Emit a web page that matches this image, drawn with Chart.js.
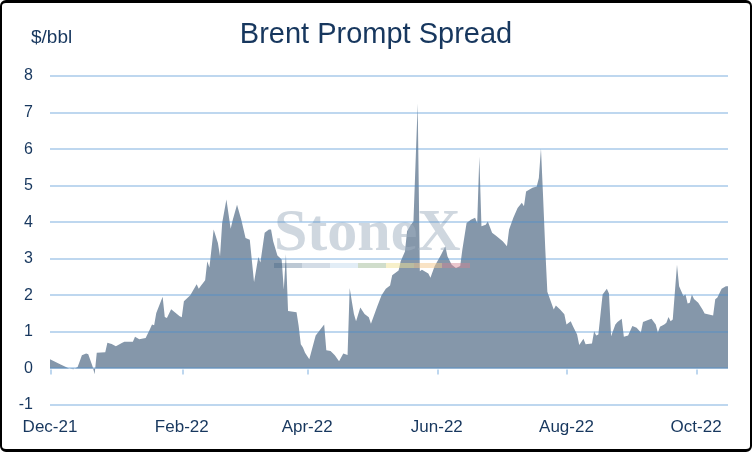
<!DOCTYPE html>
<html>
<head>
<meta charset="utf-8">
<script src="https://cdn.jsdelivr.net/npm/chart.js@4.4.1/dist/chart.umd.min.js"></script>
<style>
  html, body { margin: 0; padding: 0; background: #fff; }
  #frame {
    width: 752px; height: 452px; box-sizing: border-box;
    border-style: solid; border-color: #000; border-width: 3px 2px 3px 2px;
    border-radius: 6px; overflow: hidden; background: #fff;
  }
  canvas { display: block; }
</style>
</head>
<body>
<div id="frame"><canvas id="chart" width="748" height="446"></canvas></div>
<script>
// Days counted from 1 Dec 2021, and the prompt spread in $/bbl
const days = [0, 5, 6, 9, 11, 13, 14, 15, 17, 18, 20, 21, 22, 26, 27, 29, 31, 34, 35, 39,
  40, 42, 45, 47, 48, 49, 50, 53, 54, 55, 57, 61, 62, 63, 66, 69, 70, 71, 73, 74,
  75, 77, 79, 80, 81, 83, 85, 86, 88, 90, 92, 94, 96, 98, 99, 101, 103, 104, 105, 107,
  109, 110, 111, 112, 116, 117, 118, 119, 120, 122, 125, 127, 129, 130, 132, 134, 136, 138, 140, 141,
  142, 143, 144, 146, 148, 150, 151, 154, 156, 158, 160, 161, 164, 165, 167, 168, 170, 171, 173, 174,
  175, 178, 179, 181, 184, 186, 187, 189, 191, 193, 194, 196, 198, 200, 201, 202, 203, 205, 206, 208,
  210, 213, 215, 216, 218, 220, 222, 223, 224, 227, 229, 230, 231, 232, 233, 234, 237, 238, 240, 242,
  243, 245, 246, 248, 249, 251, 252, 255, 256, 257, 258, 260, 262, 263, 264, 266, 267, 269, 270, 272,
  274, 276, 278, 279, 282, 283, 285, 286, 287, 289, 290, 291, 292, 293, 295, 296, 298, 299, 300, 301,
  302, 303, 305, 307, 308, 312, 313, 314, 316, 318, 319];
const spread = [0.25, 0.11, 0.08, 0.0, -0.02, 0.04, 0.2, 0.36, 0.41, 0.39, 0.06, -0.16, 0.43, 0.44, 0.70, 0.67, 0.61, 0.70, 0.73, 0.73,
  0.87, 0.80, 0.83, 1.07, 1.20, 1.18, 1.52, 1.96, 1.41, 1.38, 1.62, 1.43, 1.40, 1.84, 2.00, 2.30, 2.18, 2.26, 2.41, 2.93,
  2.76, 3.80, 3.43, 3.07, 3.98, 4.62, 3.82, 4.07, 4.48, 4.07, 3.57, 3.52, 2.36, 3.05, 2.90, 3.71, 3.80, 3.80, 3.48, 3.09,
  2.98, 2.16, 3.13, 1.57, 1.54, 1.16, 0.66, 0.57, 0.43, 0.25, 0.90, 1.05, 1.20, 0.50, 0.48, 0.36, 0.20, 0.41, 0.37, 2.20,
  1.84, 1.49, 1.29, 1.67, 1.49, 1.40, 1.22, 1.70, 2.00, 2.18, 2.27, 2.55, 2.68, 2.93, 3.20, 3.75, 3.95, 4.02, 7.25, 2.66,
  2.70, 2.60, 2.48, 2.80, 3.11, 3.34, 3.07, 2.84, 2.75, 2.80, 3.25, 3.98, 4.07, 4.12, 3.98, 5.80, 3.89, 3.93, 4.02, 3.71,
  3.62, 3.48, 3.34, 3.80, 4.12, 4.39, 4.53, 4.44, 4.84, 4.94, 4.98, 5.21, 6.02, 4.70, 3.30, 2.10, 1.61, 1.72, 1.61, 1.48,
  1.20, 1.29, 1.16, 0.93, 0.64, 0.81, 0.66, 0.68, 1.02, 0.90, 0.93, 2.02, 2.18, 2.05, 0.88, 1.20, 1.27, 1.36, 0.87, 0.90,
  1.16, 1.11, 0.98, 1.27, 1.34, 1.36, 1.20, 0.98, 1.14, 1.20, 1.25, 1.41, 1.29, 1.34, 2.84, 2.25, 1.98, 2.02, 1.78, 1.80,
  2.02, 1.90, 1.80, 1.61, 1.50, 1.45, 1.89, 1.94, 2.18, 2.25, 2.25];

// Axis labels
const tickDays = [0, 62, 121, 182, 243, 304];
const tickLabels = ['Dec-21', 'Feb-22', 'Apr-22', 'Jun-22', 'Aug-22', 'Oct-22'];
const yMin = -1, yMax = 8;

const navy = '#17375e';
const gridBlue = 'rgba(70,140,210,0.35)';
const markColors = ['rgba(63,97,132,0.35)', 'rgba(140,162,188,0.38)', 'rgba(190,215,235,0.45)',
  'rgba(150,180,140,0.45)', 'rgba(240,225,150,0.5)', 'rgba(244,200,140,0.5)', 'rgba(210,130,145,0.45)'];

// Title, unit label, watermark and the small ticks on the zero line
const decorations = {
  id: 'decorations',
  beforeDraw(chart) {
    const ctx = chart.ctx;
    ctx.save();
    ctx.fillStyle = navy;
    ctx.textBaseline = 'alphabetic';
    ctx.font = '29px "Liberation Sans", Arial, sans-serif';
    ctx.textAlign = 'center';
    ctx.fillText('Brent Prompt Spread', 374, 40);
    ctx.font = '19px "Liberation Sans", Arial, sans-serif';
    ctx.textAlign = 'left';
    ctx.fillText('$/bbl', 29, 40);
    ctx.restore();
  },
  afterDatasetsDraw(chart) {
    const ctx = chart.ctx;
    const x = chart.scales.x, y = chart.scales.y;
    ctx.save();
    // watermark
    ctx.font = 'bold 60px "Liberation Serif", "Times New Roman", serif';
    ctx.textAlign = 'left';
    ctx.textBaseline = 'alphabetic';
    ctx.fillStyle = 'rgba(160,175,192,0.5)';
    ctx.fillText('StoneX', 272, 247);
    const segW = 28;
    markColors.forEach((c, i) => {
      ctx.fillStyle = c;
      ctx.fillRect(272 + i * segW, 260, segW, 5);
    });
    // ticks under the zero line
    const y0 = y.getPixelForValue(0);
    ctx.strokeStyle = gridBlue;
    ctx.lineWidth = 2;
    tickDays.forEach(d => {
      const px = Math.round(x.getPixelForValue(d)) + 1;
      ctx.beginPath();
      ctx.moveTo(px, y0 + 1);
      ctx.lineTo(px, y0 + 6);
      ctx.stroke();
    });
    ctx.restore();
  }
};

new Chart(document.getElementById('chart').getContext('2d'), {
  type: 'line',
  data: {
    datasets: [{
      label: 'Brent Prompt Spread',
      data: days.map((d, i) => ({ x: d, y: spread[i] })),
      borderWidth: 0,
      borderColor: 'rgba(0,0,0,0)',
      backgroundColor: '#8597aa',
      fill: 'origin',
      pointRadius: 0,
      tension: 0
    }]
  },
  options: {
    responsive: false,
    animation: false,
    layout: { padding: { left: 0, top: 73, right: 22, bottom: 0 } },
    plugins: {
      legend: { display: false },
      title: { display: false },
      tooltip: { enabled: false }
    },
    scales: {
      x: {
        type: 'linear',
        min: 0,
        max: 319,
        grid: { display: false, drawTicks: false },
        border: { display: false },
        afterBuildTicks(scale) {
          scale.ticks = tickDays.map(v => ({ value: v }));
        },
        afterFit(scale) { scale.height = 44; },
        ticks: {
          autoSkip: false,
          maxRotation: 0,
          padding: 12,
          color: navy,
          font: { family: '"Liberation Sans", Arial, sans-serif', size: 17 },
          callback: v => tickLabels[tickDays.indexOf(v)]
        }
      },
      y: {
        min: yMin,
        max: yMax,
        grid: { color: gridBlue, lineWidth: 2, drawTicks: false, z: 1 },
        border: { display: false },
        afterFit(scale) { scale.width = 48; },
        ticks: {
          stepSize: 1,
          padding: 17,
          color: navy,
          font: { family: '"Liberation Sans", Arial, sans-serif', size: 16 }
        }
      }
    }
  },
  plugins: [decorations]
});
</script>
</body>
</html>
